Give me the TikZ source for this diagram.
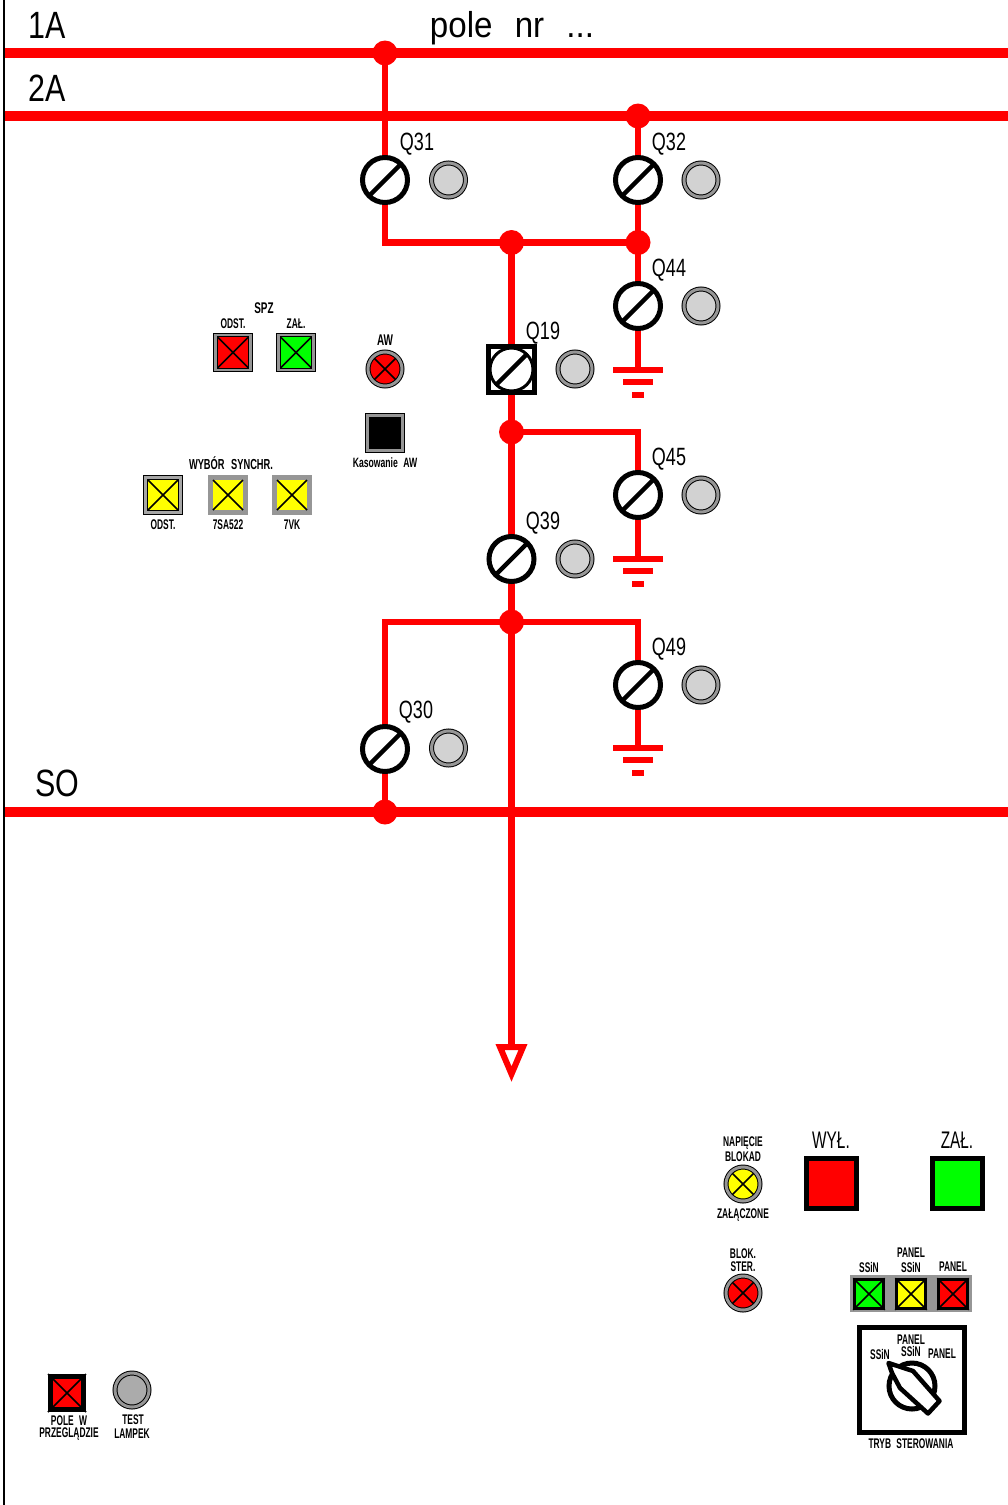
\documentclass[tikz,border=0pt]{standalone}
\usepackage{fontspec}
\newfontfamily\nar[FakeStretch=0.64]{Liberation Sans}
\newfontfamily\tn[FakeStretch=0.60]{Liberation Sans}
\newfontfamily\qf[FakeStretch=0.72]{Liberation Sans}
\newfontfamily\wid[FakeStretch=0.80]{Liberation Sans}
\newfontfamily\wider[FakeStretch=0.92]{Liberation Sans}
\definecolor{rd}{RGB}{255,0,0}
\definecolor{gn}{RGB}{0,255,0}
\definecolor{yl}{RGB}{255,255,0}
\definecolor{rim}{RGB}{150,150,150}
\definecolor{dotgray}{RGB}{210,210,210}
\pgfdeclarelayer{wirelayer}
\pgfsetlayers{wirelayer,main}
\tikzset{
  bus/.style={draw=rd,line width=9.5pt},
  wire/.style={draw=rd,line width=6.5pt},
  junction/.style={circle,fill=rd,minimum size=25pt,inner sep=0pt,outer sep=0pt},
  disc/.style={circle,draw=black,fill=white,line width=5pt,minimum size=45pt,inner sep=0pt},
  bkr/.style={rectangle,draw=black,fill=white,line width=5pt,minimum size=46pt,inner sep=0pt},
  bkrdisc/.style={circle,draw=black,fill=white,line width=3pt,minimum size=43pt,inner sep=0pt},
  blade/.style={draw=black,line width=4.5pt},
  lamp/.style={circle,draw=black,line width=1pt,double=rim,double distance=3pt,minimum size=34pt,inner sep=0pt},
  btn/.style={rectangle,draw=black,line width=1.2pt,double=rim,double distance=2.5pt,minimum size=35pt,inner sep=0pt},
  ybtn/.style={rectangle,draw=rim,line width=5pt,minimum size=35pt,inner sep=0pt,fill=yl},
  xmark/.style={draw=black,line width=1.7pt},
  hv/.style={rectangle,draw=black,line width=5pt,minimum size=50pt,inner sep=0pt},
  mini/.style={rectangle,draw=black,line width=2.5pt,minimum size=29pt,inner sep=0pt},
  gbar/.style={rectangle,fill=rd,inner sep=0pt,minimum height=6pt},
  bigtxt/.style={inner sep=0pt,font=\wid\fontsize{38}{38}\selectfont},
  qtxt/.style={inner sep=0pt,font=\qf\fontsize{25}{25}\selectfont},
  hvtxt/.style={inner sep=0pt,font=\nar\fontsize{24}{24}\selectfont},
  tiny/.style={inner sep=0pt,font=\tn\bfseries\fontsize{14}{14}\selectfont},
}
\newcommand{\dsw}[2]{\node[disc] (#1) at (#2) {};
  \draw[blade] ([shift={(-16,16)}]#1.center) -- ([shift={(16,-16)}]#1.center);}
\newcommand{\xcross}[1]{\draw[xmark] (#1.north west) -- (#1.south east) (#1.north east) -- (#1.south west);}
\newcommand{\clamp}[3]{\node[lamp,fill=#3] (#1) at (#2) {};
  \draw[xmark] ([shift={(-10.5,-10.5)}]#1.center) -- ([shift={(10.5,10.5)}]#1.center)
               ([shift={(10.5,-10.5)}]#1.center) -- ([shift={(-10.5,10.5)}]#1.center);}
\newcommand{\sbtn}[3]{\node[#3] (#1) at (#2) {};
  \draw[xmark] ([shift={(-15,-15)}]#1.center) -- ([shift={(15,15)}]#1.center)
               ([shift={(15,-15)}]#1.center) -- ([shift={(-15,15)}]#1.center);}
\begin{document}
\begin{tikzpicture}[x=1pt,y=-1pt]
\useasboundingbox (0,0) rectangle (1008,1505);
\begin{pgfonlayer}{wirelayer}
\fill[white] (0,0) rectangle (1008,1505);
\end{pgfonlayer}
\coordinate (bordertop) at (4,0);
\coordinate (borderbot) at (4,1505);
\draw[black,line width=2pt] (bordertop) -- (borderbot);
% bus end points
\coordinate (b1l) at (4,53); \coordinate (b1r) at (1008,53);
\coordinate (b2l) at (4,116); \coordinate (b2r) at (1008,116);
\coordinate (b3l) at (4,812); \coordinate (b3r) at (1008,812);
% junctions
\node[junction] (j1) at (385,53) {};
\node[junction] (j2) at (638,116) {};
\node[junction] (j3) at (511.5,242.5) {};
\node[junction] (j4) at (638,242.5) {};
\node[junction] (j5) at (511.5,432) {};
\node[junction] (j6) at (511.5,622) {};
\node[junction] (j7) at (385,812) {};
% switches
\dsw{q31}{385,180}
\dsw{q32}{638,180}
\dsw{q44}{638,306}
\node[bkr] (q19) at (511.5,369.5) {};
\node[bkrdisc] (q19d) at (q19) {};
\draw[blade] ([shift={(-16,16)}]q19.center) -- ([shift={(16,-16)}]q19.center);
\dsw{q45}{638,495}
\dsw{q39}{511.5,559}
\dsw{q49}{638,685}
\dsw{q30}{385,749}
% earth bars
\node[gbar,minimum width=50pt] (e1) at (638,370) {};
\node[gbar,minimum width=30pt] (e1b) at (638,382) {};
\node[gbar,minimum width=12pt] (e1c) at (638,395) {};
\node[gbar,minimum width=50pt] (e2) at (638,559) {};
\node[gbar,minimum width=30pt] (e2b) at (638,571) {};
\node[gbar,minimum width=12pt] (e2c) at (638,584) {};
\node[gbar,minimum width=50pt] (e3) at (638,748) {};
\node[gbar,minimum width=30pt] (e3b) at (638,760) {};
\node[gbar,minimum width=12pt] (e3c) at (638,773) {};
% buses and wires run behind the nodes
\coordinate (arrtop) at (511.5,1047);
\begin{pgfonlayer}{wirelayer}
\draw[bus] (b1l) -- (b1r);
\draw[bus] (b2l) -- (b2r);
\draw[bus] (b3l) -- (b3r);
\draw[wire] (j1.center) -- (q31.center);
\draw[wire] (j2.center) -- (q32.center);
\draw[wire] (q32.center) -- (j4.center);
\draw[wire,line join=miter] (q31.center) |- (j3.center);
\draw[wire] (j3.center) -- (j4.center);
\draw[wire] (j4.center) -- (q44.center);
\draw[wire] (q44.center) -- (e1.center);
\draw[wire] (j3.center) -- (q19.center);
\draw[wire] (q19.center) -- (j5.center);
\draw[wire,line join=miter] (j5.center) -| (q45.center);
\draw[wire] (q45.center) -- (e2.center);
\draw[wire] (j5.center) -- (q39.center);
\draw[wire] (q39.center) -- (j6.center);
\draw[wire,line join=miter] (j6.center) -| (q49.center);
\draw[wire] (q49.center) -- (e3.center);
\draw[wire,line join=miter] (j6.center) -| (q30.center);
\draw[wire] (q30.center) -- (j7.center);
\draw[wire] (j6.center) -- (arrtop);
\end{pgfonlayer}
% outgoing arrow
\draw[draw=rd,line width=6pt,fill=white,line join=miter,miter limit=10] (500,1047) -- (523,1047) -- (511.5,1074) -- cycle;
% position lamps
\foreach \n/\p in {l31/{448.5,180},l32/{701,180},l44/{701,306},l19/{575,369},l45/{701,495},l39/{575,559},l49/{701,685},l30/{448.5,748}}
  \node[lamp,fill=dotgray] (\n) at (\p) {};
% texts on diagram
\node[bigtxt] (t1a) at (47,25) {1A};
\node[bigtxt] (t2a) at (47,88) {2A};
\node[bigtxt] (tso) at (57,783) {SO};
\node[bigtxt,font=\wider\fontsize{36}{36}\selectfont] (tpole) at (512,28) {pole\hspace{13pt} nr\hspace{13pt} ...};
\node[qtxt] at (417,144) {Q31};
\node[qtxt] at (669,144) {Q32};
\node[qtxt] at (669,270) {Q44};
\node[qtxt] at (543,333) {Q19};
\node[qtxt] at (669,459) {Q45};
\node[qtxt] at (543,523) {Q39};
\node[qtxt] at (669,649) {Q49};
\node[qtxt] at (416,712) {Q30};
% SPZ group
\sbtn{spzo}{233,352.5}{btn,fill=rd}
\sbtn{spzz}{296,352.5}{btn,fill=gn}
\node[tiny,font=\nar\bfseries\fontsize{15.5}{15.5}\selectfont] at (264,308) {SPZ};
\node[tiny] at (233,324) {ODST.};
\node[tiny] at (296,324) {ZAŁ.};
\clamp{aw}{385,369}{rd}
\node[tiny,font=\nar\bfseries\fontsize{15.5}{15.5}\selectfont] at (385,340) {AW};
\node[btn,fill=black] (kas) at (385,433) {};
\node[tiny,font=\nar\bfseries\fontsize{13.5}{13.5}\selectfont] at (385,463) {Kasowanie\hspace{3pt} AW};
\sbtn{syo}{163,495}{btn,fill=yl,double=rim!85}
\sbtn{sys}{228,495}{ybtn}
\sbtn{syv}{292,495}{ybtn}
\node[tiny,font=\nar\bfseries\fontsize{14.5}{14.5}\selectfont] at (231,463) {WYBÓR\hspace{4pt} SYNCHR.};
\node[tiny] at (163,525) {ODST.};
\node[tiny] at (228,525) {7SA522};
\node[tiny] at (292,525) {7VK};
% bottom right
\clamp{nap}{743,1184}{yl}
\node[tiny] at (743,1143) {NAPIĘCIE};
\node[tiny] at (743,1157) {BLOKAD};
\node[tiny] at (743,1215) {ZAŁĄCZONE};
\node[hv,fill=rd] (wyl) at (831,1183) {};
\node[hv,fill=gn] (zal) at (957,1183) {};
\node[hvtxt] at (831,1140) {WYŁ.};
\node[hvtxt] at (957,1140) {ZAŁ.};
\clamp{blk}{743,1293}{rd}
\node[tiny] at (743,1254) {BLOK.};
\node[tiny] at (743,1267) {STER.};
\node[rectangle,fill=rim,minimum width=122pt,minimum height=37pt,inner sep=0pt] (strip) at (911,1293.5) {};
\node[mini,fill=gn] (m1) at (869,1294) {}; \xcross{m1}
\node[mini,fill=yl] (m2) at (911,1294) {}; \xcross{m2}
\node[mini,fill=rd] (m3) at (953,1294) {}; \xcross{m3}
\node[tiny] at (869,1267) {SSiN};
\node[tiny] at (911,1253) {PANEL};
\node[tiny] at (911,1267) {SSiN};
\node[tiny] at (953,1267) {PANEL};
% mode selector
\node[rectangle,draw=black,line width=5pt,minimum size=105pt,inner sep=0pt] (mode) at (911.5,1379.5) {};
\node[tiny] at (911,1340) {PANEL};
\node[tiny] at (911,1351) {SSiN};
\node[tiny] at (880,1354) {SSiN};
\node[tiny] at (942,1354) {PANEL};
\node[tiny] at (911,1444) {TRYB\hspace{3pt} STEROWANIA};
\node[circle,draw=black,fill=white,line width=5pt,minimum size=46pt,inner sep=0pt] (knob) at (912,1386) {};
\draw[black,fill=white,line width=4.5pt,line join=round] (888.5,1363) -- (913,1371) -- (939.5,1401) -- (928,1413.5) -- (900,1388) -- (892,1373) -- cycle;
% bottom left
\node[rectangle,draw=black,line width=5pt,fill=rd,minimum size=33pt,inner sep=0pt] (pole) at (67,1393) {};
\xcross{pole}
\node[lamp,fill=rim!80] (test) at (132,1390) {};
\node[tiny] at (69,1421) {POLE\hspace{3pt} W};
\node[tiny] at (69,1434) {PRZEGLĄDZIE};
\node[tiny] at (133,1420) {TEST};
\node[tiny] at (132,1434) {LAMPEK};
\end{tikzpicture}
\end{document}
